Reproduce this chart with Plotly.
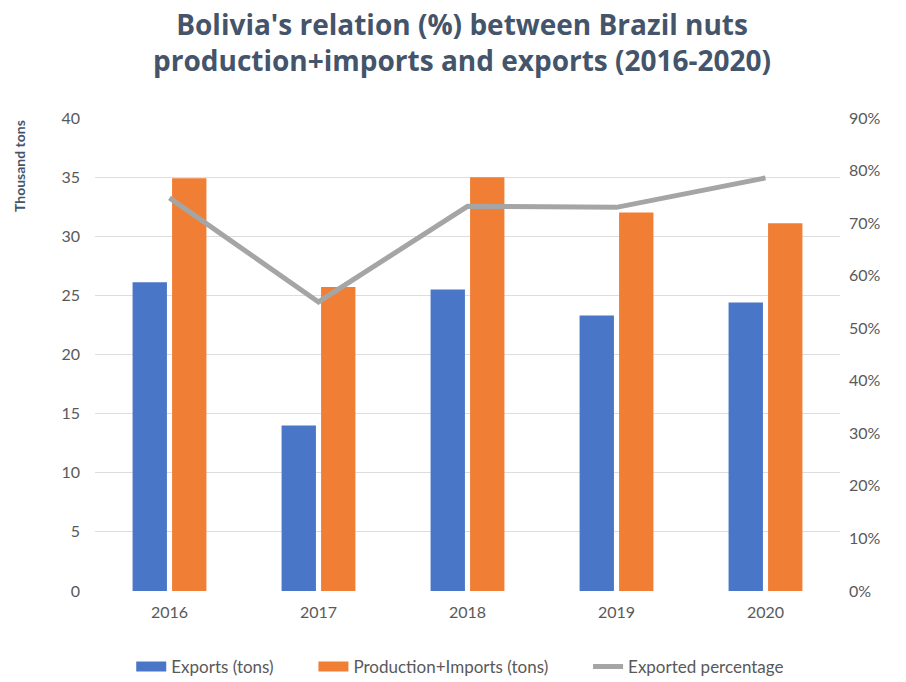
import plotly.graph_objects as go

years = ["2016", "2017", "2018", "2019", "2020"]
exports = [26.1, 14.0, 25.5, 23.3, 24.4]
prod_imports = [34.9, 25.7, 35.0, 32.0, 31.1]
exported_pct = [74.8, 55.0, 73.2, 73.0, 78.6]

left_ticks = [0, 5, 10, 15, 20, 25, 30, 35, 40]
right_ticks = [0, 10, 20, 30, 40, 50, 60, 70, 80, 90]
right_labels = [f"{v}%" for v in right_ticks]

BLUE = "#4A76C8"
ORANGE = "#F07F35"
GRAY = "#A5A5A5"

tick_font = dict(family="Lato, Open Sans, sans-serif", size=16, color="#595959")
PAD = "\u00a0" * 8

fig = go.Figure()
fig.add_trace(go.Bar(x=years, y=exports, name="Exports (tons)", showlegend=False,
                     marker=dict(color=BLUE, line=dict(width=0))))
fig.add_trace(go.Bar(x=years, y=prod_imports, name="Production+Imports (tons)", showlegend=False,
                     marker=dict(color=ORANGE, line=dict(width=0))))
fig.add_trace(go.Scatter(x=years, y=exported_pct, name="Exported percentage",
                         mode="lines", yaxis="y2", showlegend=False,
                         line=dict(color=GRAY, width=5)))
# legend entries (wide swatches like the original)
fig.add_trace(go.Scatter(x=[None], y=[None], mode="lines", name="Exports (tons)" + PAD,
                         line=dict(color=BLUE, width=10)))
fig.add_trace(go.Scatter(x=[None], y=[None], mode="lines", name="Production+Imports (tons)" + PAD,
                         line=dict(color=ORANGE, width=10)))
fig.add_trace(go.Scatter(x=[None], y=[None], mode="lines", name="Exported percentage",
                         line=dict(color=GRAY, width=5)))

fig.update_layout(
    width=906, height=682,
    paper_bgcolor="white", plot_bgcolor="white",
    margin=dict(l=95, r=66, t=118, b=91, autoexpand=False),
    bargap=0.47, bargroupgap=0.13,
    xaxis=dict(type="category", showgrid=False, zeroline=False, showline=False,
               ticks="", tickfont=tick_font, ticklabelstandoff=10),
    yaxis=dict(range=[0, 40], tickvals=left_ticks, showgrid=True, gridcolor="#DDDDDD",
               gridwidth=1, zeroline=False, showline=False, tickfont=tick_font,
               ticklabelstandoff=14),
    yaxis2=dict(range=[0, 90], tickvals=right_ticks, ticktext=right_labels,
                overlaying="y", side="right", showgrid=False, zeroline=False,
                showline=False, tickfont=tick_font, ticklabelstandoff=8),
    legend=dict(orientation="h", x=0.508, xanchor="center", xref="container",
                y=0.022, yanchor="middle", yref="container",
                font=dict(family="Lato, Open Sans, sans-serif", size=17, color="#595959"),
                itemwidth=30, tracegroupgap=0),
    annotations=[
        dict(text="<b>Bolivia's relation (%) between Brazil nuts<br>production+imports and exports (2016-2020)</b>",
             xref="paper", yref="paper", x=0.4926, y=1.1607, xanchor="center", yanchor="middle",
             showarrow=False, align="center",
             font=dict(family="Open Sans, Lato, sans-serif", size=28, color="#44546A")),
        dict(text="<b>Thousand tons</b>", textangle=-90, xref="paper", yref="paper",
             x=-0.102, y=1.0, xanchor="center", yanchor="top", showarrow=False,
             font=dict(family="Lato, Open Sans, sans-serif", size=14, color="#44546A")),
    ],
    showlegend=True,
)

fig.write_html("out.html")
